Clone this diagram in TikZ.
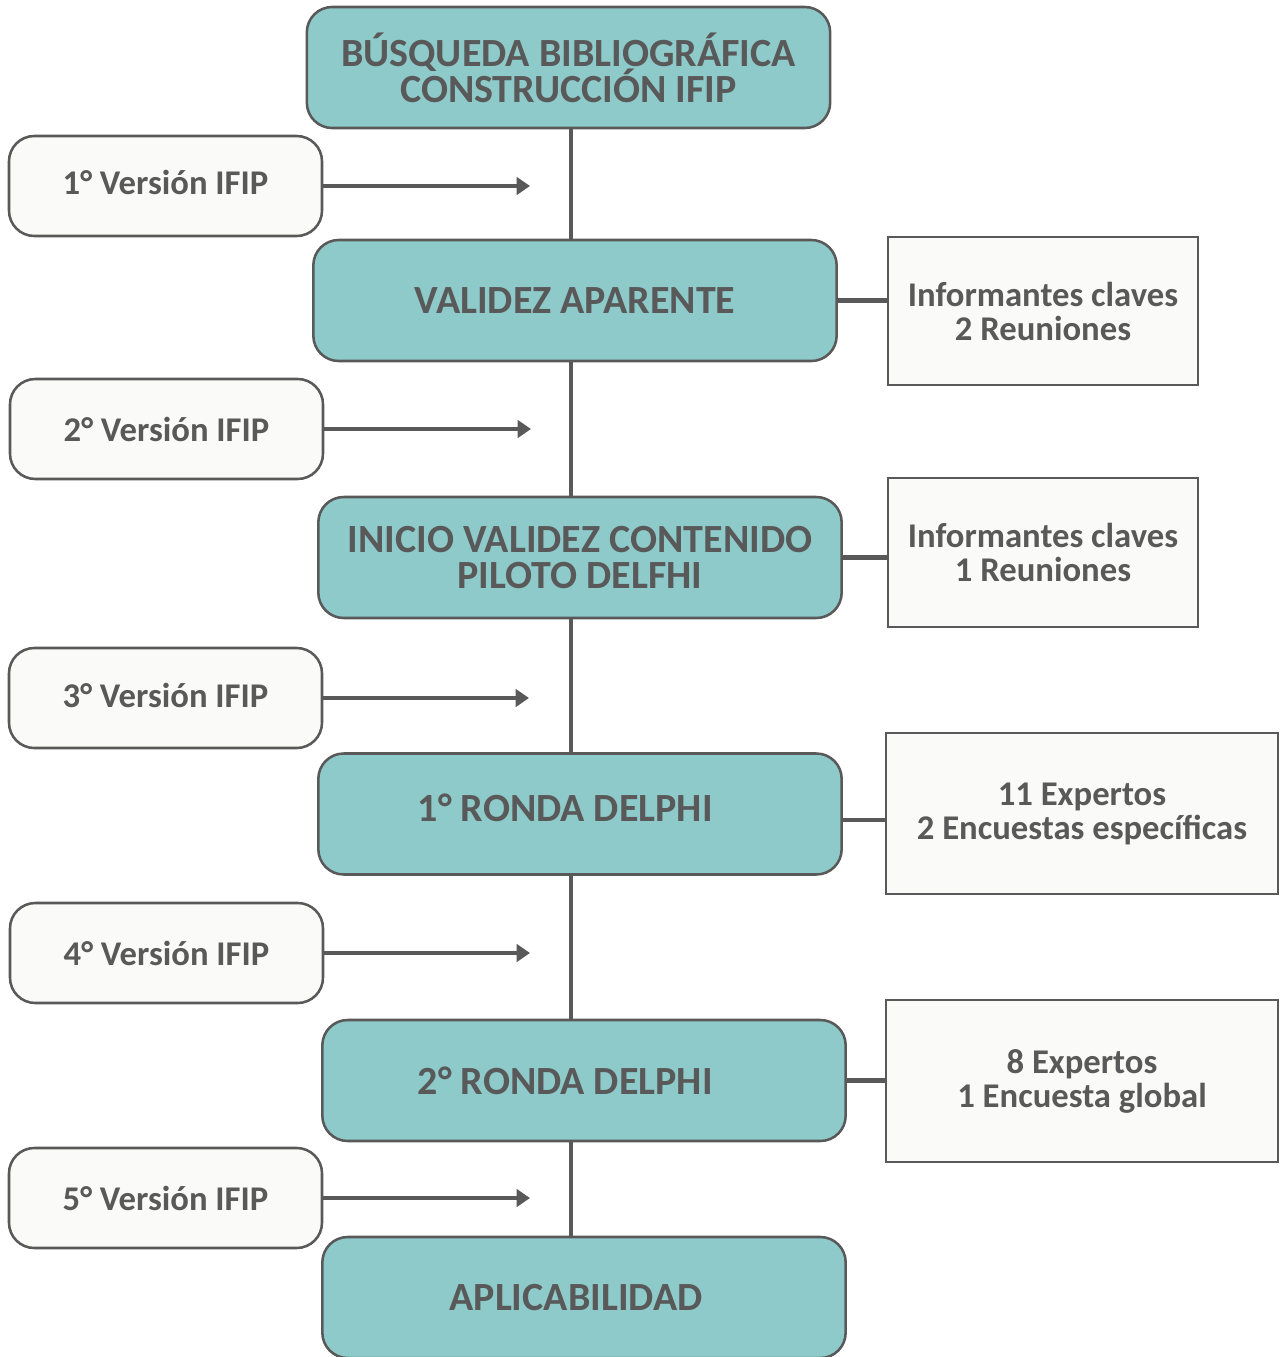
\documentclass[tikz,border=0pt]{standalone}
\usepackage{fontspec}
\setmainfont{Carlito}
\usetikzlibrary{arrows.meta}
\definecolor{tealfill}{HTML}{8ECACA}
\definecolor{greyline}{HTML}{595959}
\definecolor{paper}{HTML}{FAFAF8}
\newcommand{\tightlines}{\lineskiplimit=-20pt\relax}
\begin{document}
\begin{tikzpicture}[x=0.75pt,y=-0.75pt,
  stage/.style={draw=greyline,line width=1.9pt,fill=tealfill,rounded corners=19pt,
    minimum width=392.5pt,minimum height=90.75pt,inner sep=0pt,align=center,
    text=greyline,font={\fontsize{30}{27}\selectfont\bfseries\tightlines}},
  version/.style={draw=greyline,line width=1.9pt,fill=paper,rounded corners=19pt,
    minimum width=234.75pt,minimum height=75pt,inner sep=0pt,align=center,
    text=greyline,font=\fontsize{26}{25.5}\selectfont\bfseries},
  note/.style={draw=greyline,line width=1.5pt,fill=paper,inner sep=0pt,align=center,
    text=greyline,font=\fontsize{26}{25.5}\selectfont\bfseries},
  link/.style={draw=greyline,line width=3.5pt},
  tip/.style={-{Triangle[length=10pt,width=13pt]}}]

\useasboundingbox (0,0) rectangle (1279,1357);

% central stages
\node[stage] (busqueda) at (568.5,67.5) {BÚSQUEDA BIBLIOGRÁFICA\\CONSTRUCCIÓN IFIP};
\node[stage] (aparente) at (575,300.5) {VALIDEZ APARENTE};
\node[stage] (contenido) at (580,557.5) {INICIO VALIDEZ CONTENIDO\\PILOTO DELFHI};
\node[stage,text depth=10pt] (ronda1) at (580,814) {1° RONDA DELPHI\hspace*{22pt}};
\node[stage] (ronda2) at (584,1080.5) {2° RONDA DELPHI\hspace*{28pt}};
\node[stage] (aplica) at (584,1297.5) {APLICABILIDAD\hspace*{12pt}};

% versions
\node[version,text depth=6pt] (v1) at (165.5,186) {1° Versión IFIP};
\node[version] (v2) at (166.5,429) {2° Versión IFIP};
\node[version,text depth=4pt] (v3) at (165.5,698) {3° Versión IFIP};
\node[version] (v4) at (166.5,953) {4° Versión IFIP};
\node[version] (v5) at (165.5,1198) {5° Versión IFIP};

% notes
\node[note,minimum width=232.5pt,minimum height=111pt] (n1) at (1043,311) {Informantes claves\\2 Reuniones};
\node[note,minimum width=232.5pt,minimum height=111.75pt] (n2) at (1043,552.5) {Informantes claves\\1 Reuniones};
\node[note,minimum width=294pt,minimum height=120.75pt] (n3) at (1082,813.5) {11 Expertos\\2 Encuestas específicas};
\node[note,minimum width=294pt,minimum height=121.5pt] (n4) at (1082,1081) {8 Expertos\\1 Encuesta global};

% spine
\coordinate (spine) at (571,0);
\draw[link] (busqueda.south -| spine) -- (aparente.north -| spine);
\draw[link] (aparente.south -| spine) -- (contenido.north -| spine);
\draw[link] (contenido.south -| spine) -- (ronda1.north -| spine);
\draw[link] (ronda1.south -| spine) -- (ronda2.north -| spine);
\draw[link] (ronda2.south -| spine) -- (aplica.north -| spine);

% version arrows
\coordinate (t1) at (530,186);
\coordinate (t2) at (531,429);
\coordinate (t3) at (529,698);
\coordinate (t4) at (530,953);
\coordinate (t5) at (530,1198);
\draw[link,tip] (v1.east) -- (t1);
\draw[link,tip] (v2.east) -- (t2);
\draw[link,tip] (v3.east) -- (t3);
\draw[link,tip] (v4.east) -- (t4);
\draw[link,tip] (v5.east) -- (t5);

% notes links
\draw[link] (aparente.east) -- (aparente.east -| n1.west);
\draw[link] (contenido.east) -- (contenido.east -| n2.west);
\draw[link] (ronda1.east |- 0,820) -- (n3.west |- 0,820);
\draw[link] (ronda2.east) -- (ronda2.east -| n4.west);

\end{tikzpicture}
\end{document}
